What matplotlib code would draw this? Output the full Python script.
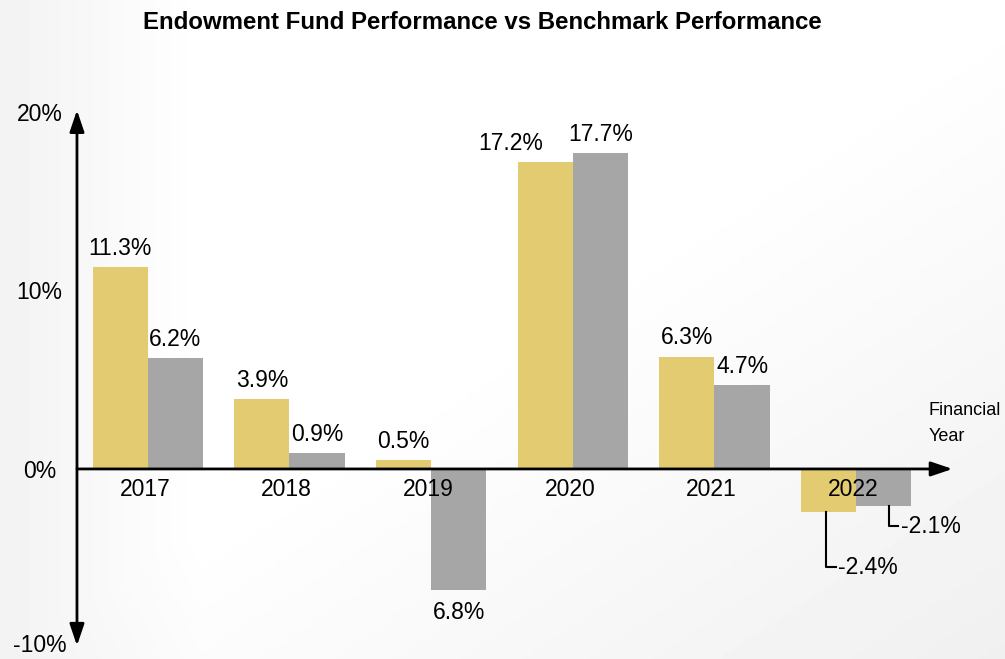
import numpy as np
import matplotlib.pyplot as plt
import matplotlib.transforms as mtransforms

plt.rcParams['font.family'] = ['Liberation Sans', 'DejaVu Sans']

years = ['2017', '2018', '2019', '2020', '2021', '2022']
fund = [11.3, 3.9, 0.5, 17.2, 6.3, -2.4]
benchmark = [6.2, 0.9, -6.8, 17.7, 4.7, -2.1]
fund_labels = ['11.3%', '3.9%', '0.5%', '17.2%', '6.3%', '-2.4%']
bench_labels = ['6.2%', '0.9%', '6.8%', '17.7%', '4.7%', '-2.1%']
y_ticks = [-10, 0, 10, 20]
y_tick_labels = ['-10%', '0%', '10%', '20%']

GOLD = '#E3CB72'
GREY = '#A6A6A6'
W = 0.39
FS = 16.5

fig = plt.figure(figsize=(10.05, 6.59), dpi=100)

# soft grey background gradient
bg = fig.add_axes([0, 0, 1, 1], zorder=-10)
yy, xx = np.mgrid[0:1:200j, 0:1:300j]
shade = 0.05 * np.clip(1 - xx / 0.2, 0, 1) + 0.06 * np.clip((xx - 0.5) + (yy - 0.5), 0, 1)
bg.imshow(1 - shade, cmap='gray', vmin=0, vmax=1, aspect='auto', extent=[0, 1, 0, 1], origin='upper')
bg.axis('off')

ax = fig.add_axes([0.0766, 0.004, 0.881, 0.8396])
ax.patch.set_alpha(0)
x = np.arange(len(years))

ax.bar(x - W / 2, fund, W, color=GOLD, zorder=2)
ax.bar(x + W / 2, benchmark, W, color=GREY, zorder=2)

ax.set_xlim(-0.5, 5.75)
ax.set_ylim(-10.5, 20.5)
for s in ax.spines.values():
    s.set_visible(False)
ax.set_xticks([])
ax.set_yticks(y_ticks)
ax.set_yticklabels(y_tick_labels, fontsize=FS, ha='center')
ax.tick_params(axis='y', length=0, pad=27)
# nudge the bottom label up a little so it stays inside the figure
lab = ax.get_yticklabels()[0]
lab.set_transform(lab.get_transform() + mtransforms.ScaledTranslation(0, 3 / 72, fig.dpi_scale_trans))

# axes with arrows
arr = dict(arrowstyle='<|-|>,head_length=0.65,head_width=0.22', lw=2, color='black',
           mutation_scale=20, shrinkA=0, shrinkB=0)
ax.annotate('', xy=(-0.5, 20.1), xytext=(-0.5, -9.9), arrowprops=arr, zorder=4)
arr2 = dict(arrowstyle='-|>,head_length=0.65,head_width=0.22', lw=2, color='black',
            mutation_scale=20, shrinkA=0, shrinkB=0)
ax.annotate('', xy=(5.68, 0), xytext=(-0.5, 0), arrowprops=arr2, zorder=4)

for i, yr in enumerate(years):
    ax.text(i - 0.02, -1.15, yr, ha='center', va='center', fontsize=FS, zorder=5)

# value labels
for i in range(5):
    dx = -0.24 if i == 3 else 0
    if fund[i] >= 0:
        ax.text(i - W / 2 + dx, fund[i] + 0.4, fund_labels[i], ha='center', va='bottom', fontsize=FS)
    if benchmark[i] >= 0:
        ax.text(i + W / 2, benchmark[i] + 0.4, bench_labels[i], ha='center', va='bottom', fontsize=FS)
    else:
        ax.text(i + W / 2, benchmark[i] - 0.6, bench_labels[i], ha='center', va='top', fontsize=FS)

# 2022 leader lines
i = 5
lx = i - W / 2 - 0.015
ax.plot([lx, lx, lx + 0.07], [fund[i], fund[i] - 3.1, fund[i] - 3.1], color='black', lw=1.5)
ax.text(lx + 0.08, fund[i] - 3.1, fund_labels[i], ha='left', va='center', fontsize=FS)
gx = i + W / 2 + 0.04
ax.plot([gx, gx, gx + 0.06], [benchmark[i], benchmark[i] - 1.1, benchmark[i] - 1.1], color='black', lw=1.5)
ax.text(gx + 0.08, benchmark[i] - 1.1, bench_labels[i], ha='left', va='center', fontsize=FS)

fig.text(0.924, 0.325, 'Financial\nYear', fontsize=13, ha='left', va='bottom', linespacing=1.7)

fig.suptitle('Endowment Fund Performance vs Benchmark Performance', x=0.48, y=0.983,
             fontsize=17.3, fontweight='bold')

fig.savefig('out.png', dpi=100)
